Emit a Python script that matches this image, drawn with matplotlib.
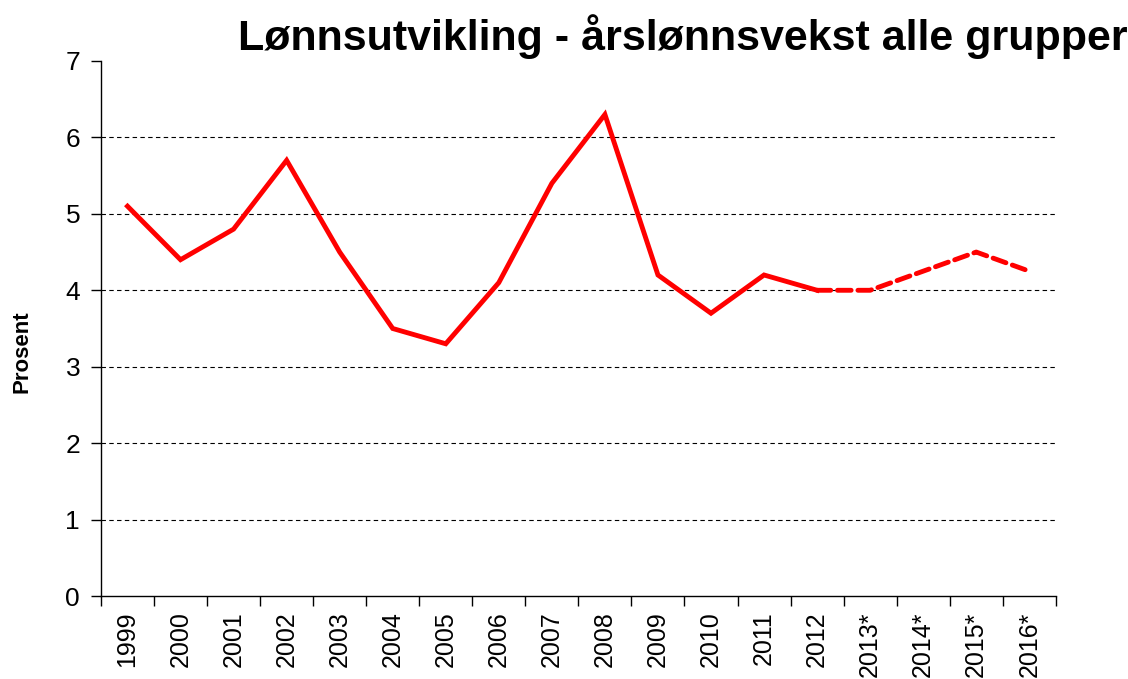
import matplotlib
matplotlib.use("Agg")
import matplotlib.pyplot as plt
import numpy as np

years = ["1999", "2000", "2001", "2002", "2003", "2004", "2005", "2006", "2007",
         "2008", "2009", "2010", "2011", "2012", "2013*", "2014*", "2015*", "2016*"]
values = [5.1, 4.4, 4.8, 5.7, 4.5, 3.5, 3.3, 4.1, 5.4,
          6.3, 4.2, 3.7, 4.2, 4.0, 4.0, 4.25, 4.5, 4.25]
forecast_start = 13  # index of 2012: dashed from here on
title = "Lønnsutvikling - årslønnsvekst alle grupper"
ylabel = "Prosent"
yticks = [0, 1, 2, 3, 4, 5, 6, 7]

plt.rcParams['font.family'] = ['Liberation Sans', 'DejaVu Sans']

fig = plt.figure(figsize=(11.28, 6.79), dpi=100)
ax = fig.add_axes([0.0895, 0.1222, 0.8465, 0.788])

x = np.arange(len(years))
ax.plot(x[:forecast_start + 1], values[:forecast_start + 1], color='#FF0000', lw=3.5,
        solid_joinstyle='miter', zorder=3)
ax.plot(x[forecast_start:], values[forecast_start:], color='#FF0000', lw=3.5,
        dashes=(2.8, 1.4), dash_capstyle='round', zorder=3)

ax.set_xlim(-0.5, len(years) - 0.5)
ax.set_ylim(0, 7)
ax.set_yticks(yticks)
ax.tick_params(axis='y', labelsize=19, length=7, width=1, direction='out', pad=8)

for v in yticks[1:-1]:
    ax.axhline(v, color='black', lw=0.8, ls=(0, (4, 3)), zorder=1)

ax.set_xticks(np.arange(len(years) + 1) - 0.5)
ax.set_xticklabels([])
ax.tick_params(axis='x', which='major', length=7, width=1, direction='out')
ax.set_xticks(x, minor=True)
ax.set_xticklabels(years, minor=True, rotation=90, fontsize=18)
ax.tick_params(axis='x', which='minor', length=0, pad=11)

for s in ['top', 'right']:
    ax.spines[s].set_visible(False)
for s in ['left', 'bottom']:
    ax.spines[s].set_linewidth(1)

fig.text(22 / 1128, 1 - 352 / 679, ylabel, fontsize=16, fontweight='bold',
         rotation=90, ha='center', va='center')
fig.text(0.605, 1 - 50 / 679, title, fontsize=31, fontweight='bold',
         ha='center', va='baseline')

fig.savefig("out.png", dpi=100)
